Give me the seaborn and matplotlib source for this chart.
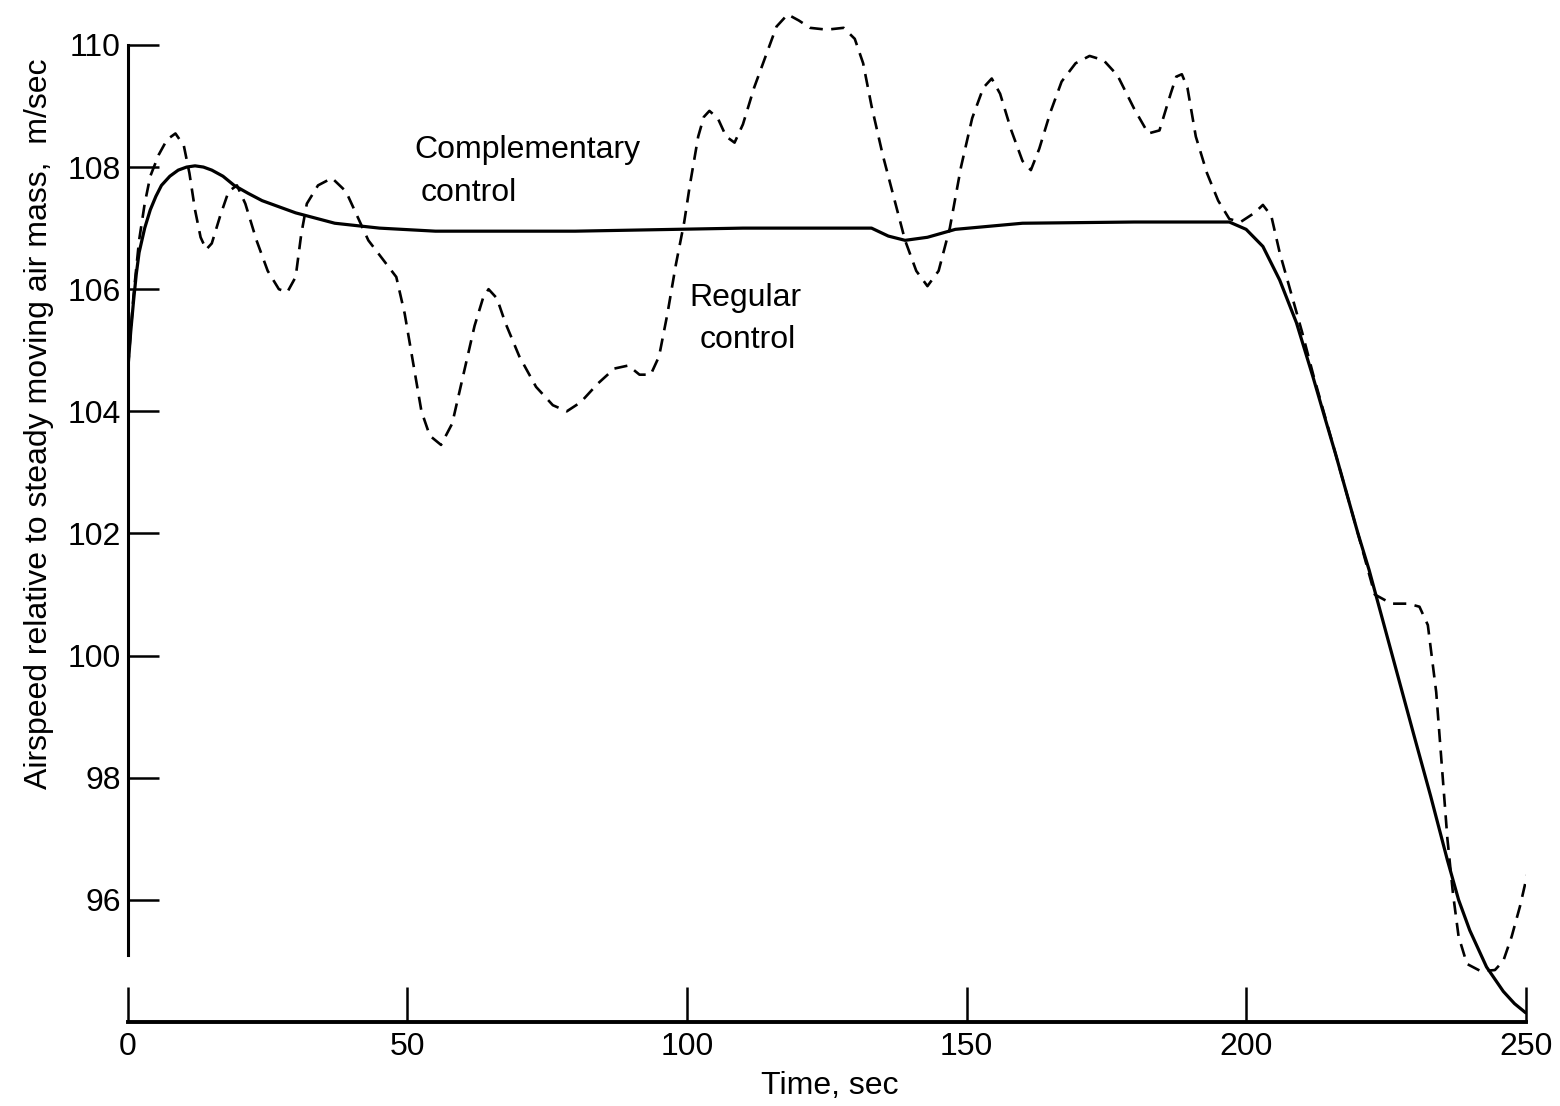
import pandas as pd
import matplotlib.pyplot as plt
import seaborn as sns

# Complementary control (solid line)
comp_time = [0, 0.5, 1, 1.5, 2, 3, 4, 5, 6, 7.5, 9, 10.5, 12, 13.5, 15, 17, 19,
             21.5, 24, 30, 37, 45, 55, 80, 110, 133, 136, 139, 143, 148, 160,
             180, 197, 200, 203, 206, 209, 212, 214, 216, 218, 220, 222, 226,
             230, 233, 236, 238, 240, 243, 246, 248, 250]
comp_speed = [104.7, 105.3, 105.8, 106.25, 106.6, 107.0, 107.3, 107.52, 107.7,
              107.85, 107.95, 108.0, 108.02, 108.0, 107.95, 107.85, 107.7,
              107.57, 107.45, 107.25, 107.08, 107.0, 106.95, 106.95, 107.0,
              107.0, 106.87, 106.8, 106.85, 106.98, 107.08, 107.1, 107.1,
              106.98, 106.7, 106.15, 105.45, 104.55, 103.92, 103.3, 102.65,
              102.0, 101.4, 100.05, 98.7, 97.7, 96.65, 96.0, 95.5, 94.9, 94.5,
              94.3, 94.15]

# Regular control (dashed line)
reg_time = [0, 1, 2, 3, 4, 5.5, 7, 8.5, 10, 11, 12, 13, 14, 15, 16.5, 18, 19.5,
            21, 23, 25, 27, 28.5, 30, 31, 32, 34, 36.5, 39, 41, 43, 45.5, 48,
            49.5, 51, 52.5, 54, 56, 58, 60, 62, 63.5, 64.5, 66, 67.5, 70, 73,
            76, 78.5, 81, 84, 87, 89.5, 91.5, 93.5, 95, 96.5, 98, 99.5, 100.5,
            102, 103, 104, 105.5, 107, 108.5, 110, 112, 114, 116, 118, 120, 122,
            125, 128, 130, 131.5, 133, 135, 137, 139, 141, 143, 145, 147, 149,
            151, 153, 154.5, 156, 158, 160, 161.5, 163, 165, 167, 169.5, 172,
            174.5, 177, 180, 182.5, 184.5, 186.5, 187.5, 188.5, 189.5, 191, 193,
            195, 197, 199, 201.5, 203, 204.5, 206, 208, 210, 212, 214, 216, 218,
            220, 221.5, 223, 226, 229, 231, 232.5, 234, 235, 236, 237, 238,
            239.5, 242, 244.5, 246, 247.5, 249, 250.5]
reg_speed = [104.7, 105.9, 106.8, 107.4, 107.85, 108.2, 108.45, 108.55, 108.35,
             107.9, 107.3, 106.85, 106.65, 106.75, 107.2, 107.6, 107.7, 107.4,
             106.8, 106.3, 106.0, 105.95, 106.2, 106.9, 107.4, 107.7, 107.82,
             107.6, 107.2, 106.8, 106.5, 106.2, 105.6, 104.8, 104.0, 103.6,
             103.45, 103.8, 104.6, 105.4, 105.85, 106.0, 105.85, 105.45, 104.9,
             104.4, 104.1, 104.0, 104.15, 104.45, 104.7, 104.75, 104.6, 104.6,
             104.9, 105.6, 106.4, 107.1, 107.7, 108.5, 108.82, 108.92, 108.8,
             108.5, 108.4, 108.7, 109.3, 109.8, 110.3, 110.5, 110.4, 110.28,
             110.25, 110.28, 110.1, 109.7, 109.0, 108.2, 107.5, 106.8, 106.3,
             106.05, 106.3, 107.0, 108.0, 108.8, 109.3, 109.45, 109.2, 108.6,
             108.1, 107.95, 108.3, 108.9, 109.4, 109.7, 109.82, 109.75, 109.5,
             108.95, 108.55, 108.6, 109.2, 109.48, 109.52, 109.3, 108.5, 107.9,
             107.45, 107.15, 107.1, 107.25, 107.38, 107.2, 106.6, 105.95, 105.3,
             104.6, 103.95, 103.3, 102.65, 102.0, 101.5, 101.0, 100.85, 100.85,
             100.8, 100.5, 99.4, 98.2, 97.0, 96.1, 95.4, 94.95, 94.83, 94.85,
             95.0, 95.4, 95.9, 96.5]

x_ticks = [0, 50, 100, 150, 200, 250]
y_ticks = [96, 98, 100, 102, 104, 106, 108, 110]

comp = pd.DataFrame({"time": comp_time, "speed": comp_speed})
reg = pd.DataFrame({"time": reg_time, "speed": reg_speed})

sns.set_theme(style="white")
plt.rcParams["font.family"] = ["Liberation Sans", "DejaVu Sans"]
plt.rcParams["text.color"] = "black"
plt.rcParams["axes.labelcolor"] = "black"
plt.rcParams["xtick.color"] = "black"
plt.rcParams["ytick.color"] = "black"

fig = plt.figure(figsize=(15.6, 11.06), dpi=100)
ax = fig.add_axes([0.082, 0.076, 0.896, 0.9165])

sns.lineplot(data=comp, x="time", y="speed", color="black", linewidth=2.3,
             sort=False, estimator=None, ax=ax)
sns.lineplot(data=reg, x="time", y="speed", color="black", linewidth=1.9,
             sort=False, estimator=None, ax=ax, linestyle=(0, (5, 3.2)))

ax.set_xlim(0, 250)
ax.set_ylim(94, 110.6)

for side in ["top", "right"]:
    ax.spines[side].set_visible(False)
ax.spines["left"].set_bounds(95.1, 110)
ax.spines["left"].set_linewidth(2.2)
ax.spines["bottom"].set_linewidth(2.8)
for side in ["left", "bottom"]:
    ax.spines[side].set_color("black")

ax.set_xticks(x_ticks)
ax.set_yticks(y_ticks)
ax.set_xticklabels([str(v) for v in x_ticks])
ax.set_yticklabels([str(v) for v in y_ticks])
ax.tick_params(axis="y", direction="in", length=22, width=1.8, pad=5,
               labelsize=23, left=True)
ax.tick_params(axis="x", direction="in", length=25, width=1.8, pad=7,
               labelsize=23, bottom=True)

ax.set_xlabel("Time, sec", fontsize=23)
ax.set_ylabel("Airspeed relative to steady moving air mass,  m/sec", fontsize=23)
ax.xaxis.set_label_coords(0.502, -0.048)
ax.yaxis.set_label_coords(-0.053, 0.59)

ax.text(51.3, 108.28, "Complementary", fontsize=23, ha="left", va="center")
ax.text(52.4, 107.58, "control", fontsize=23, ha="left", va="center")
ax.text(100.45, 105.86, "Regular", fontsize=23, ha="left", va="center")
ax.text(102.2, 105.17, "control", fontsize=23, ha="left", va="center")

fig.savefig("out.png", dpi=100)
